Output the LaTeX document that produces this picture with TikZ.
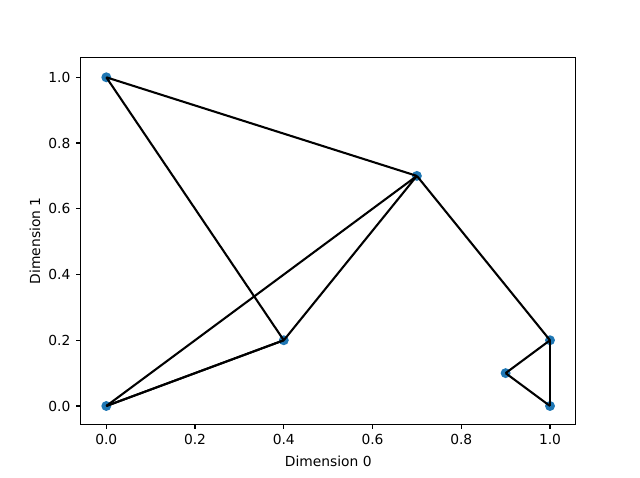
\documentclass[tikz,border=0pt]{standalone}
\usepackage{fontspec}
\setmainfont{DejaVu Sans}
\definecolor{mplblue}{HTML}{1F77B4}
\begin{document}
\begin{tikzpicture}[x=1in,y=1in,
  dot/.style={circle,fill=mplblue,inner sep=0pt,minimum size=7.2pt},
  edge/.style={line width=1.5pt,black},
  axisline/.style={line width=0.8pt,black},
  ticklab/.style={font=\fontsize{10}{12}\selectfont,inner sep=0pt}]
\useasboundingbox (0,0) rectangle (6.4,4.78);
\begin{scope}[shift={(1.063,0.72)},x=4.437in,y=3.287in]
  % points
  \node[dot] (p1) at (0,1) {};
  \node[dot] (p2) at (0.7,0.7) {};
  \node[dot] (p3) at (0.4,0.2) {};
  \node[dot] (p4) at (0,0) {};
  \node[dot] (p5) at (1,0.2) {};
  \node[dot] (p6) at (0.9,0.1) {};
  \node[dot] (p7) at (1,0) {};
  % edges
  \draw[edge] (p1.center) -- (p2.center);
  \draw[edge] (p1.center) -- (p3.center);
  \draw[edge] (p2.center) -- (p4.center);
  \draw[edge] (p2.center) -- (p3.center);
  \draw[edge] (p2.center) -- (p5.center);
  \draw[edge] (p4.center) -- (p3.center);
  \draw[edge] (p4.center) -- (p3.center);
  \draw[edge] (p5.center) -- (p6.center);
  \draw[edge] (p5.center) -- (p7.center);
  \draw[edge] (p6.center) -- (p7.center);
  % frame
  \draw[axisline] (-0.058,-0.056) rectangle (1.058,1.06);
  % ticks
  \foreach \v/\l in {0/0.0,0.2/0.2,0.4/0.4,0.6/0.6,0.8/0.8,1/1.0}{
    \draw[axisline] (\v,-0.056) -- ++(0,-3.5pt) node[ticklab,anchor=north,yshift=-3.5pt] {\l};
    \draw[axisline] (-0.058,\v) -- ++(-3.5pt,0) node[ticklab,anchor=east,xshift=-3.5pt] {\l};
  }
\end{scope}
\node[ticklab] (xlab) at (3.283,0.17) {Dimension 0};
\node[ticklab,rotate=90] (ylab) at (0.35,2.372) {Dimension 1};
\end{tikzpicture}
\end{document}
